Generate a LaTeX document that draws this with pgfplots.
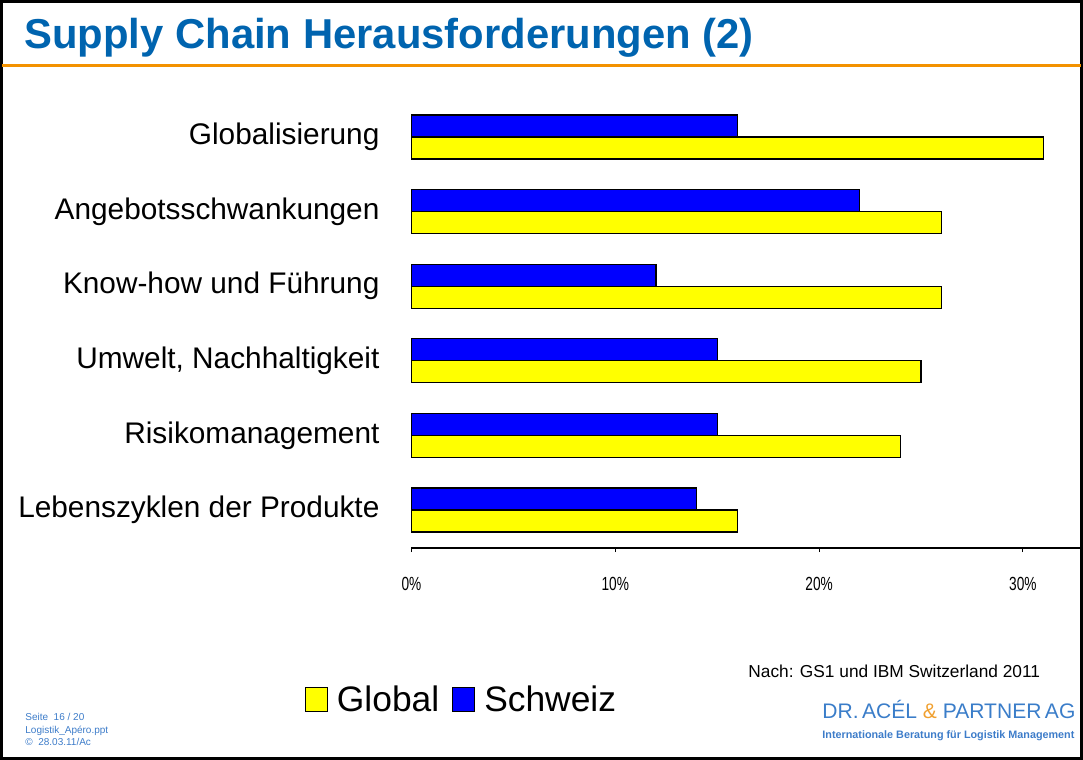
\documentclass[border=0pt]{standalone}
\usepackage{fontspec}
\setmainfont{Liberation Sans}
\newfontfamily\condfont{Liberation Sans}[FakeStretch=0.72]
\usepackage{pgfplots}
\pgfplotsset{compat=1.18}
\definecolor{titleBlue}{HTML}{0064AF}
\definecolor{lineOrange}{HTML}{F39200}
\definecolor{footBlue}{HTML}{3D7CC9}
\definecolor{logoBlue}{HTML}{3A7DC9}
\definecolor{logoOrange}{HTML}{F0A030}
\definecolor{barBlue}{HTML}{0000FF}
\definecolor{barYellow}{HTML}{FFFF00}

\begin{document}
\begin{tikzpicture}
\useasboundingbox (0,0) rectangle (541.5pt,-380pt);
\begin{scope}[x=0.5pt,y=-0.5pt]
  % frame and header
  \draw[line width=1.3pt] (1.3,1.3) rectangle (1081.7,758.7);
  \draw[lineOrange, line width=1.3pt] (2,65.5) -- (1081,65.5);
  \node[anchor=base west, inner sep=0, text=titleBlue,
        font=\bfseries\fontsize{20.9}{24}\selectfont] at (24,48) {Supply Chain Herausforderungen (2)};
  % footer left
  \node[anchor=base west, inner sep=0, text=footBlue, font=\fontsize{5}{6}\selectfont] at (25,720) {Seite\ \ 16 / 20};
  \node[anchor=base west, inner sep=0, text=footBlue, font=\fontsize{5}{6}\selectfont] at (25,733) {Logistik\_Apéro.ppt};
  \node[anchor=base west, inner sep=0, text=footBlue, font=\fontsize{5}{6}\selectfont] at (25,745) {©\ \ 28.03.11/Ac};
  % source and logo
  \node[anchor=base west, inner sep=0, font=\fontsize{8.65}{10}\selectfont] at (748,677) {Nach: GS1 und IBM Switzerland 2011};
  \node[anchor=base west, inner sep=0, text=logoBlue] at (822,718)
    {\resizebox{126.5pt}{!}{\fontsize{10.8}{12}\selectfont DR.\,ACÉL {\color{logoOrange}\&} PARTNER\,AG}};
  \node[anchor=base west, inner sep=0, text=footBlue] at (822,738)
    {\resizebox{126pt}{!}{\bfseries\fontsize{5.4}{6}\selectfont Internationale Beratung für Logistik Management}};
\end{scope}

\begin{axis}[
  at={(205.75pt,-274pt)}, anchor=south west,
  scale only axis, width=334.25pt, height=224.5pt,
  xmin=0, xmax=32.8, ymin=-0.51, ymax=5.51,
  axis x line*=bottom, axis y line*=left,
  y axis line style={draw=none},
  x axis line style={line width=0.8pt},
  xtick={0,10,20,30}, xticklabels={0\%,10\%,20\%,30\%},
  xticklabel style={font=\condfont\fontsize{9.5}{10}\selectfont, yshift=-9pt},
  ytick={0,1,2,3,4,5},
  yticklabels={Lebenszyklen der Produkte, Risikomanagement, {Umwelt, Nachhaltigkeit},
               Know-how und Führung, Angebotsschwankungen, Globalisierung},
  yticklabel style={font=\fontsize{14.9}{16}\selectfont, xshift=-10.5pt},
  ytick style={draw=none},
  xtick style={draw=black, line width=0.5pt},
  tick align=outside, major tick length=2pt,
  clip=false,
  legend image code/.code={\draw[#1, line width=0.5pt] (0pt,-6pt) rectangle (11pt,6pt);},
  legend columns=-1,
  legend style={at={(axis description cs:0.0763,-0.3385)}, anchor=center,
    draw=none, fill=none, inner sep=0pt,
    font=\fontsize{17.7}{18}\selectfont,
    /tikz/every even column/.append style={column sep=4.5pt}},
]
% Global
\addplot[xbar, bar width=11pt, bar shift=-5.5pt, fill=barYellow, draw=black, line width=0.6pt, forget plot]
  coordinates {(31,5) (26,4) (26,3) (25,2) (24,1) (16,0)};
% Schweiz
\addplot[xbar, bar width=11pt, bar shift=5.5pt, fill=barBlue, draw=black, line width=0.6pt, forget plot]
  coordinates {(16,5) (22,4) (12,3) (15,2) (15,1) (14,0)};
\addlegendimage{fill=barYellow, draw=black}
\addlegendentry{\hspace{2.5pt}Global}
\addlegendimage{fill=barBlue, draw=black}
\addlegendentry{\hspace{2.5pt}Schweiz}
\end{axis}
\end{tikzpicture}
\end{document}
